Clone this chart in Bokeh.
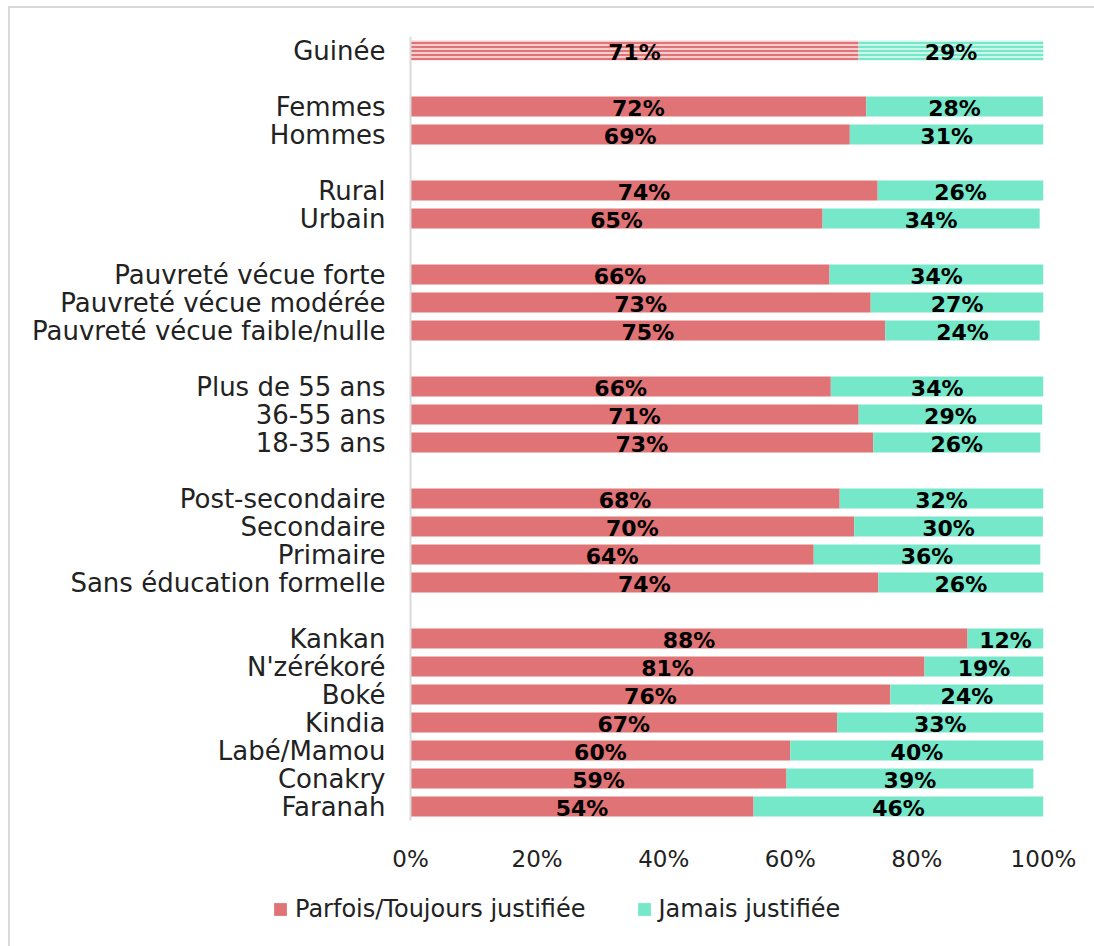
from bokeh.plotting import figure
from bokeh.layouts import column
from bokeh.models import (ColumnDataSource, FixedTicker, Legend, LegendItem, Range1d,
                          CDSView, IndexFilter)
from bokeh.core.properties import value
from bokeh.embed import file_html
from bokeh.resources import INLINE

categories = ["Guinée", "Femmes", "Hommes", "Rural", "Urbain",
              "Pauvreté vécue forte", "Pauvreté vécue modérée", "Pauvreté vécue faible/nulle",
              "Plus de 55 ans", "36-55 ans", "18-35 ans",
              "Post-secondaire", "Secondaire", "Primaire", "Sans éducation formelle",
              "Kankan", "N'zérékoré", "Boké", "Kindia", "Labé/Mamou", "Conakry", "Faranah"]
group_sizes = [1, 2, 2, 3, 3, 4, 7]
justifiee = [70.8, 72.0, 69.4, 73.8, 65.1, 66.2, 72.7, 75.0, 66.4, 70.8, 73.1,
             67.8, 70.1, 63.7, 73.9, 88.0, 81.2, 75.8, 67.4, 60.0, 59.4, 54.2]
jamais = [29.2, 27.9, 30.6, 26.2, 34.3, 33.8, 27.3, 24.4, 33.6, 29.0, 26.4,
          32.2, 29.8, 35.8, 26.1, 12.0, 18.8, 24.2, 32.6, 40.0, 39.0, 45.8]
series_names = ["Parfois/Toujours justifiée", "Jamais justifiée"]
tick_values = [0, 20, 40, 60, 80, 100]
tick_labels = ["0%", "20%", "40%", "60%", "80%", "100%"]

RED = "#E07375"
GREEN = "#76E8CA"
FONT = "DejaVu Sans"
TXT = "#222222"

# row positions: one empty row between groups
rows = []
r = 0
for gi, n in enumerate(group_sizes):
    if gi > 0:
        r += 1
    for _ in range(n):
        rows.append(r)
        r += 1
n_rows = r

src = ColumnDataSource(dict(
    y=rows, cat=categories, a=justifiee, b=jamais,
    b_left=justifiee, b_right=[x + y for x, y in zip(justifiee, jamais)],
    a_mid=[x / 2 for x in justifiee],
    b_mid=[x + y / 2 for x, y in zip(justifiee, jamais)],
    a_lab=[f"{round(x)}%" for x in justifiee],
    b_lab=[f"{round(y)}%" for y in jamais],
))
main_view = CDSView(filter=IndexFilter(list(range(1, len(categories)))))
first_view = CDSView(filter=IndexFilter([0]))

p = figure(frame_width=633, frame_height=784, output_backend="svg", toolbar_location=None,
           x_range=Range1d(0, 100), y_range=Range1d(n_rows - 0.5, -0.5),
           min_border_left=400, min_border_right=51, min_border_top=28, min_border_bottom=0)
p.outline_line_color = None
p.grid.grid_line_color = None
p.frame_align = False

h = 0.72
p.hbar(y="y", left=0, right="a", height=h, source=src, view=main_view,
       fill_color=RED, line_color=None)
p.hbar(y="y", left="b_left", right="b_right", height=h, source=src, view=main_view,
       fill_color=GREEN, line_color=None)
p.hbar(y="y", left=0, right="a", height=h, source=src, view=first_view,
       fill_color="#F5CDCE", line_color=None, hatch_pattern="-", hatch_color=RED,
       hatch_scale=4, hatch_weight=2)
p.hbar(y="y", left="b_left", right="b_right", height=h, source=src, view=first_view,
       fill_color="#CDF6EA", line_color=None, hatch_pattern="-", hatch_color=GREEN,
       hatch_scale=4, hatch_weight=2)

for xcol, tcol in (("a_mid", "a_lab"), ("b_mid", "b_lab")):
    p.text(x=xcol, y="y", text=tcol, source=src, text_align="center",
           text_baseline="middle", y_offset=2, text_font=value(FONT),
           text_font_style="bold", text_font_size="22px", text_color="black")

xa = p.xaxis[0]
xa.ticker = FixedTicker(ticks=tick_values)
xa.major_label_overrides = {v: l for v, l in zip(tick_values, tick_labels)}
xa.axis_line_color = None
xa.major_tick_line_color = None
xa.minor_tick_line_color = None
xa.major_label_text_font = FONT
xa.major_label_text_font_size = "23px"
xa.major_label_text_color = TXT
xa.major_label_standoff = 19

ya = p.yaxis[0]
ya.ticker = FixedTicker(ticks=rows)
ya.major_label_overrides = {rw: c for rw, c in zip(rows, categories)}
ya.axis_line_color = "#d9d9d9"
ya.axis_line_width = 2
ya.major_tick_line_color = None
ya.minor_tick_line_color = None
ya.major_label_text_font = FONT
ya.major_label_text_font_size = "26px"
ya.major_label_text_color = TXT
ya.major_label_standoff = 19

# legend strip (separate figure so the legend can sit anywhere along the width)
p2 = figure(width=1084, height=73, output_backend="svg", toolbar_location=None,
            x_axis_location=None, y_axis_location=None,
            x_range=Range1d(0, 100), y_range=Range1d(1000, 1001),
            min_border=0, outline_line_color=None)
p2.grid.grid_line_color = None
p2.frame_align = False
la = p2.hbar(y="y", left=0, right="a", height=h, source=src, view=main_view,
             fill_color=RED, line_color=None)
lb = p2.hbar(y="y", left="b_left", right="b_right", height=h, source=src, view=main_view,
             fill_color=GREEN, line_color=None)
legend = Legend(items=[LegendItem(label=series_names[0], renderers=[la]),
                       LegendItem(label=series_names[1], renderers=[lb])],
                orientation="horizontal", location=(262, 24),
                glyph_width=16, glyph_height=16, label_standoff=7, spacing=50,
                padding=0, margin=0, border_line_color=None, background_fill_alpha=0,
                label_text_font=FONT, label_text_font_size="24px",
                label_text_color=TXT)
p2.add_layout(legend, "center")

layout = column(p, p2, spacing=0)
layout.styles = {"margin-left": "8px", "margin-top": "6px",
                 "border-left": "2px solid #d9d9d9", "border-top": "2px solid #d9d9d9"}

open("out.html", "w").write(file_html(layout, INLINE))
